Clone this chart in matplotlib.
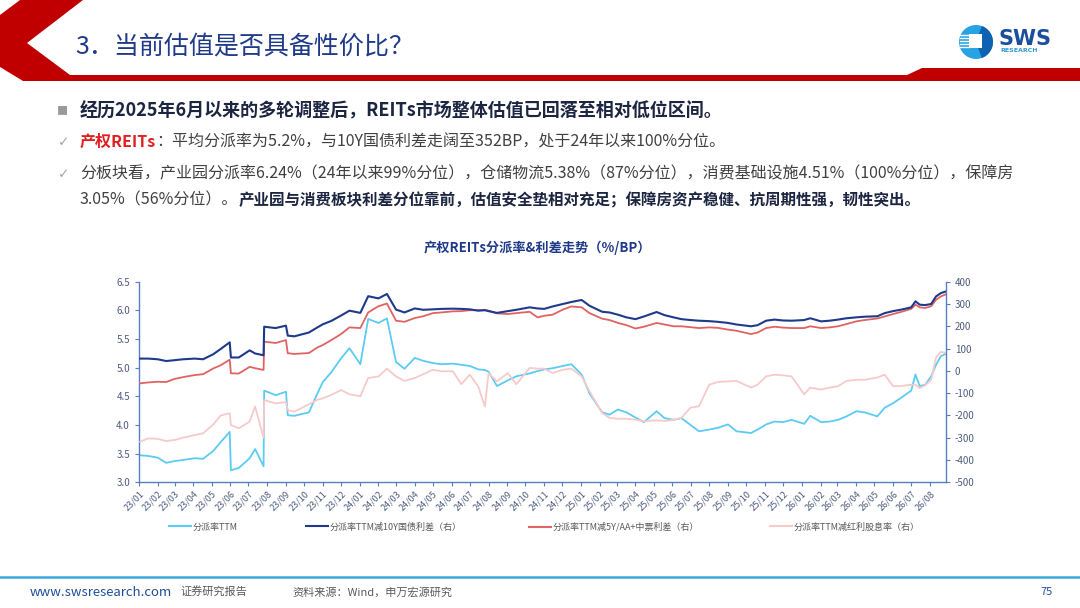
import pandas as pd
import matplotlib
matplotlib.use("Agg")
import matplotlib.pyplot as plt
import matplotlib.dates as mdates
from matplotlib.patches import Polygon, Circle, Wedge, Rectangle
from matplotlib.lines import Line2D

FONT = ["Noto Sans CJK SC", "DejaVu Sans"]
plt.rcParams["font.family"] = FONT
plt.rcParams["axes.unicode_minus"] = False

# ---- data ----
dates = pd.to_datetime([
    "2023-01-03", "2023-01-16", "2023-02-01", "2023-02-15", "2023-03-01", "2023-03-15", "2023-04-03", "2023-04-17", "2023-05-04", "2023-05-16", "2023-05-31", "2023-06-02",
    "2023-06-15", "2023-07-03", "2023-07-12", "2023-07-26", "2023-07-27", "2023-08-15", "2023-09-01", "2023-09-04", "2023-09-15", "2023-10-09", "2023-10-23", "2023-11-01",
    "2023-11-15", "2023-12-01", "2023-12-15", "2024-01-02", "2024-01-15", "2024-02-01", "2024-02-15", "2024-03-01", "2024-03-15", "2024-04-01", "2024-04-15", "2024-05-01",
    "2024-05-15", "2024-06-03", "2024-06-17", "2024-07-01", "2024-07-15", "2024-07-26", "2024-08-01", "2024-08-15", "2024-09-02", "2024-09-16", "2024-10-08", "2024-10-21",
    "2024-11-01", "2024-11-15", "2024-12-02", "2024-12-16", "2025-01-02", "2025-01-15", "2025-02-05", "2025-02-17", "2025-03-03", "2025-03-17", "2025-04-01", "2025-04-15",
    "2025-05-06", "2025-05-19", "2025-06-03", "2025-06-16", "2025-07-01", "2025-07-15", "2025-08-01", "2025-08-15", "2025-09-01", "2025-09-15", "2025-10-09", "2025-10-20",
    "2025-11-03", "2025-11-17", "2025-12-01", "2025-12-15", "2026-01-05", "2026-01-15", "2026-02-02", "2026-02-16", "2026-03-02", "2026-03-16", "2026-04-01", "2026-04-15",
    "2026-05-06", "2026-05-18", "2026-06-01", "2026-06-15", "2026-07-01", "2026-07-08", "2026-07-15", "2026-07-24", "2026-08-03", "2026-08-11", "2026-08-19", "2026-08-27",
])

# 分派率TTM (%), left axis
ttm = [
    3.47, 3.46, 3.43, 3.34, 3.37, 3.39, 3.42, 3.41, 3.55, 3.70, 3.88, 3.21,
    3.25, 3.42, 3.58, 3.28, 4.60, 4.52, 4.58, 4.17, 4.16, 4.22, 4.55, 4.75,
    4.92, 5.16, 5.34, 5.06, 5.85, 5.78, 5.86, 5.10, 4.98, 5.17, 5.12, 5.08,
    5.06, 5.07, 5.05, 5.03, 4.97, 4.96, 4.93, 4.68, 4.78, 4.85, 4.90, 4.94,
    4.97, 4.99, 5.03, 5.06, 4.88, 4.55, 4.22, 4.18, 4.27, 4.22, 4.13, 4.05,
    4.24, 4.12, 4.09, 4.12, 4.00, 3.89, 3.92, 3.95, 4.01, 3.89, 3.86, 3.92,
    4.01, 4.06, 4.05, 4.09, 4.02, 4.16, 4.05, 4.06, 4.09, 4.15, 4.24, 4.22,
    4.15, 4.30, 4.38, 4.48, 4.60, 4.88, 4.68, 4.70, 4.85, 5.05, 5.20, 5.24,
]

# 分派率TTM减10Y国债利差 (BP), right axis
spread_10y = [
    55, 55, 52, 44, 48, 52, 55, 52, 75, 98, 128, 60,
    60, 92, 78, 70, 198, 192, 203, 158, 155, 172, 195, 209,
    224, 248, 270, 260, 335, 325, 345, 275, 262, 280, 274, 276,
    278, 279, 278, 276, 270, 272, 268, 260, 268, 274, 285, 280,
    278, 289, 300, 309, 318, 292, 265, 262, 252, 240, 232, 244,
    264, 250, 240, 232, 228, 225, 223, 220, 215, 208, 200, 205,
    225, 230, 226, 225, 228, 236, 222, 225, 230, 236, 240, 243,
    245, 259, 268, 275, 285, 312, 297, 295, 300, 334, 349, 356,
]

# 分派率TTM减5Y/AA+中票利差 (BP), right axis
spread_5y = [
    -56, -52, -49, -50, -36, -28, -19, -15, 11, 25, 50, -11,
    -12, 18, 12, 4, 131, 125, 138, 79, 76, 80, 105, 116,
    138, 165, 195, 192, 262, 290, 302, 225, 220, 237, 245, 259,
    262, 267, 268, 272, 272, 274, 270, 258, 255, 259, 265, 240,
    247, 252, 275, 289, 285, 259, 234, 228, 215, 205, 190, 198,
    215, 208, 200, 200, 196, 192, 195, 193, 185, 180, 165, 172,
    192, 198, 194, 192, 192, 200, 192, 195, 200, 210, 222, 228,
    235, 244, 255, 265, 278, 297, 285, 282, 290, 319, 334, 343,
]

# 分派率TTM减红利股息率 (BP), right axis
spread_div = [
    -318, -303, -305, -315, -310, -300, -288, -280, -240, -200, -190, -243,
    -258, -228, -160, -300, -131, -146, -140, -176, -183, -150, -130, -123,
    -108, -86, -105, -114, -32, -25, 10, -25, -45, -32, -15, 5,
    -2, -2, -60, -17, -70, -160, -10, -47, -10, -60, 13, 10,
    10, -10, 5, 10, -25, -92, -189, -211, -215, -215, -219, -226,
    -222, -225, -220, -211, -165, -159, -62, -50, -47, -45, -75, -62,
    -25, -17, -20, -25, -105, -75, -84, -75, -69, -45, -40, -40,
    -30, -17, -69, -68, -62, -62, -77, -65, -40, 60, 85, 81,
]

series_names = ["分派率TTM", "分派率TTM减10Y国债利差（右）",
                "分派率TTM减5Y/AA+中票利差（右）", "分派率TTM减红利股息率（右）"]
series_colors = ["#5BCBF3", "#1F3A8A", "#E06363", "#F7CACA"]

NAVY = "#1F3A88"
AXC = "#5B7BC4"
TICKC = "#4E5D7E"

fig = plt.figure(figsize=(10.8, 6.08), dpi=100)
fig.patch.set_facecolor("white")

# page decoration layer in pixel units
bg = fig.add_axes([0, 0, 1, 1])
bg.set_xlim(0, 1080)
bg.set_ylim(608, 0)
bg.axis("off")

red_band = [(20, 0), (83, 0), (27, 43), (70, 75), (907, 75), (922, 68),
            (1080, 68), (1080, 81), (23, 81), (0, 67), (0, 15)]
bg.add_patch(Polygon(red_band, closed=True, facecolor="#C00000", edgecolor="none"))

bg.text(75, 46, "3．当前估值是否具备性价比？", fontsize=18, color=NAVY,
        va="center", ha="left")

# logo
bg.add_patch(Circle((976, 42), 17, facecolor="#27A3E3", edgecolor="none"))
bg.add_patch(Wedge((976, 42), 17, -70, 70, facecolor="#0E62B0", edgecolor="none"))
bg.add_patch(Rectangle((969, 34), 13, 14, facecolor="white", edgecolor="none"))
for yy in [34.5, 37.5, 40.5, 43.5, 46.5]:
    bg.plot([960, 969], [yy, yy], color="white", lw=1.0)
bg.text(999, 39, "SWS", fontsize=15, fontweight="bold", color="#1B4F9C",
        va="center", ha="left", family="DejaVu Sans")
bg.text(1000, 51, "RESEARCH", fontsize=4.5, fontweight="bold", color="#2A9AD8",
        va="center", ha="left", family="DejaVu Sans")

fig.canvas.draw()
renderer = fig.canvas.get_renderer()


def rich_line(x, y, parts):
    for s, color, weight, size in parts:
        t = bg.text(x, y, s, fontsize=size, color=color, fontweight=weight,
                    va="center", ha="left", family=FONT)
        x = t.get_window_extent(renderer).x1


GREY = "#404040"
DARK = "#1C2541"
bg.text(57, 111, "■", fontsize=8, color="#9A9A9A", va="center", ha="left", family=FONT)
rich_line(80, 111, [("经历2025年6月以来的多轮调整后，REITs市场整体估值已回落至相对低位区间。", DARK, "bold", 13)])
bg.text(58, 142, "✓", fontsize=10, color="#A8A8A8", va="center", ha="left", family=["DejaVu Sans"])
rich_line(80, 142, [("产权REITs", "#E02020", "bold", 11.5),
                    ("：平均分派率为5.2%，与10Y国债利差走阔至352BP，处于24年以来100%分位。", GREY, "normal", 11.5)])
bg.text(58, 174, "✓", fontsize=10, color="#A8A8A8", va="center", ha="left", family=["DejaVu Sans"])
rich_line(80, 174, [("分板块看，产业园分派率6.24%（24年以来99%分位），仓储物流5.38%（87%分位），消费基础设施4.51%（100%分位），保障房", GREY, "normal", 11.5)])
rich_line(80, 200, [("3.05%（56%分位）。", GREY, "normal", 11.5),
                    ("产业园与消费板块利差分位靠前，估值安全垫相对充足；保障房资产稳健、抗周期性强，韧性突出。", DARK, "bold", 11.2)])

bg.text(537, 248, "产权REITs分派率&利差走势（%/BP）", fontsize=9.5, fontweight="bold",
        color=NAVY, va="center", ha="center")

# footer
bg.plot([0, 1080], [577, 577], color="#3AA8DC", lw=1.8)
bg.text(30, 592, "www.swsresearch.com", fontsize=9.5, color="#1F4E9A", va="center", ha="left")
bg.text(180, 591, "证券研究报告", fontsize=8, color="#595959", va="center", ha="left")
bg.text(292, 592, "资料来源：Wind，申万宏源研究", fontsize=8, color="#595959", va="center", ha="left")
bg.text(1040, 592, "75", fontsize=8, color="#1F4E9A", va="center", ha="left")

# ---- chart ----
ax = fig.add_axes([139 / 1080, 1 - 482.3 / 608, 806.7 / 1080, 200.6 / 608])
ax.patch.set_alpha(0)
ax2 = ax.twinx()

ax.plot(dates, ttm, color=series_colors[0], lw=1.3)
ax2.plot(dates, spread_div, color=series_colors[3], lw=1.3)
ax2.plot(dates, spread_5y, color=series_colors[2], lw=1.3)
ax2.plot(dates, spread_10y, color=series_colors[1], lw=1.5)

ax.set_xlim(dates[0] - pd.Timedelta(days=2), dates[-1])
ax.set_ylim(3.0, 6.5)
ax.set_yticks([3.0, 3.5, 4.0, 4.5, 5.0, 5.5, 6.0, 6.5])
ax.yaxis.set_major_formatter(plt.FormatStrFormatter("%.1f"))
ax2.set_ylim(-500, 400)
ax2.set_yticks(range(-500, 401, 100))

ax.xaxis.set_major_locator(mdates.MonthLocator())
ax.xaxis.set_major_formatter(mdates.DateFormatter("%y/%m"))
for lab in ax.get_xticklabels():
    lab.set_rotation(45)
    lab.set_ha("right")
    lab.set_rotation_mode("anchor")

for a in (ax, ax2):
    a.spines["top"].set_visible(False)
    for s in ("left", "right", "bottom"):
        a.spines[s].set_color(AXC)
        a.spines[s].set_linewidth(1.0)
    a.tick_params(colors=AXC, labelcolor=TICKC, labelsize=7, length=3, width=0.8)
ax.spines["right"].set_visible(False)
ax2.spines["left"].set_visible(False)
ax2.spines["bottom"].set_visible(False)
ax.tick_params(axis="x", labelsize=6.5, pad=2)

# legend, one entry per slot like the reference
legend_x = [169, 306, 529, 770]
for name, color, lx in zip(series_names, series_colors, legend_x):
    h = Line2D([], [], color=color, lw=1.5)
    fig.legend([h], [name], loc="center left", bbox_to_anchor=(lx / 1080, 1 - 527 / 608),
               frameon=False, fontsize=6.5, handlelength=2.4, handletextpad=0.2,
               borderpad=0, borderaxespad=0, labelcolor="#595959")

fig.savefig("out.png", dpi=100, facecolor="white")
